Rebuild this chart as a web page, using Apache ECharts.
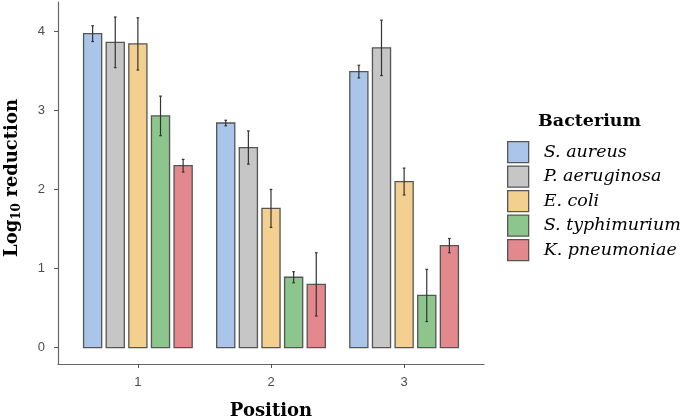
<!DOCTYPE html>
<html>
<head>
<meta charset="utf-8">
<script src="https://cdn.jsdelivr.net/npm/echarts@6/dist/echarts.min.js"></script>
<style>html,body{margin:0;padding:0;background:#fff;}#c{width:685px;height:420px;}</style>
</head>
<body>
<div id="c"></div>
<script>
var positions = ['1', '2', '3'];
var bacteria = ['S. aureus', 'P. aeruginosa', 'E. coli', 'S. typhimurium', 'K. pneumoniae'];
var sAureus = [3.97, 2.84, 3.49];
var sAureusSd = [0.10, 0.035, 0.08];
var pAeruginosa = [3.86, 2.53, 3.79];
var pAeruginosaSd = [0.32, 0.21, 0.35];
var eColi = [3.84, 1.76, 2.10];
var eColiSd = [0.33, 0.24, 0.17];
var sTyphimurium = [2.93, 0.89, 0.66];
var sTyphimuriumSd = [0.25, 0.07, 0.33];
var kPneumoniae = [2.30, 0.80, 1.29];
var kPneumoniaeSd = [0.08, 0.40, 0.09];
var yTicks = [0, 1, 2, 3, 4];

var means = [sAureus, pAeruginosa, eColi, sTyphimurium, kPneumoniae];
var sds = [sAureusSd, pAeruginosaSd, eColiSd, sTyphimuriumSd, kPneumoniaeSd];
var colors = ['#aac5e9', '#c6c6c6', '#f3d08f', '#8cc68c', '#e3888c'];
var step = 0.17, barW = 0.136, capW = 0.02;

var chart = echarts.init(document.getElementById('c'), null, {renderer: 'canvas'});

var series = bacteria.map(function (name, si) {
  var offset = (si - 2) * step;
  return {
    name: name,
    type: 'custom',
    itemStyle: {color: colors[si], borderColor: '#555', borderWidth: 1.3},
    data: positions.map(function (p, i) { return [i + 1, means[si][i], sds[si][i]]; }),
    renderItem: function (params, api) {
      var x = api.value(0) + offset;
      var v = api.value(1), sd = api.value(2);
      var top = api.coord([x, v]);
      var base = api.coord([x, 0]);
      var w = api.size([barW, 0])[0];
      var cw = api.size([capW, 0])[0];
      var hi = api.coord([x, v + sd]);
      var lo = api.coord([x, v - sd]);
      var ls = {stroke: '#333', lineWidth: 1.2};
      return {
        type: 'group',
        children: [
          {type: 'rect', shape: {x: top[0] - w / 2, y: top[1], width: w, height: base[1] - top[1]},
           style: {fill: colors[si], stroke: '#555', lineWidth: 1.3}},
          {type: 'line', shape: {x1: hi[0], y1: hi[1], x2: lo[0], y2: lo[1]}, style: ls},
          {type: 'line', shape: {x1: hi[0] - cw / 2, y1: hi[1], x2: hi[0] + cw / 2, y2: hi[1]}, style: ls},
          {type: 'line', shape: {x1: lo[0] - cw / 2, y1: lo[1], x2: lo[0] + cw / 2, y2: lo[1]}, style: ls}
        ]
      };
    }
  };
});

chart.setOption({
  animation: false,
  backgroundColor: '#fff',
  title: {
    text: 'Bacterium', left: 538, top: 112, padding: 0,
    textStyle: {fontFamily: 'DejaVu Serif', fontWeight: 'bold', fontSize: 17.5, color: '#000'}
  },
  legend: {
    orient: 'vertical', left: 507, top: 141, padding: 0,
    itemWidth: 21, itemHeight: 21, itemGap: 2.2,
    icon: 'rect',
    data: bacteria.map(function (b) { return {name: b, itemStyle: {borderColor: '#555', borderWidth: 1.3}}; }),
    textStyle: {fontFamily: 'DejaVu Serif', fontStyle: 'italic', fontSize: 17.5, lineHeight: 21, color: '#000', padding: [0, 0, 0, 10]}
  },
  grid: {left: 58, right: 201, top: 2, bottom: 56, outerBoundsMode: 'none', containLabel: false},
  xAxis: {
    type: 'value', min: 0.4, max: 3.6,
    name: 'Position', nameLocation: 'middle', nameGap: 38,
    nameTextStyle: {fontFamily: 'DejaVu Serif', fontWeight: 'bold', fontSize: 18, color: '#000'},
    axisLine: {show: true, onZero: false, lineStyle: {color: '#666', width: 1.2}},
    axisTick: {show: true, length: 4, customValues: [1, 2, 3], lineStyle: {color: '#555'}},
    axisLabel: {customValues: [1, 2, 3], margin: 12, fontFamily: 'Liberation Sans', fontSize: 13, color: '#4d4d4d',
      formatter: function (v) { return positions[Math.round(v) - 1]; }},
    splitLine: {show: false}
  },
  yAxis: {
    type: 'value', min: -0.207, max: 4.37,
    name: '{b|Log}{s|10}{b| reduction}', nameLocation: 'middle', nameGap: 35,
    nameTextStyle: {
      padding: [0, 0, 0, 10],
      rich: {
        b: {fontFamily: 'DejaVu Serif', fontWeight: 'bold', fontSize: 18, color: '#000', lineHeight: 22, verticalAlign: 'middle'},
        s: {fontFamily: 'DejaVu Serif', fontWeight: 'bold', fontSize: 12, color: '#000', lineHeight: 22, verticalAlign: 'bottom'}
      }
    },
    axisLine: {show: true, onZero: false, lineStyle: {color: '#666', width: 1.2}},
    axisTick: {show: true, length: 4, customValues: yTicks, lineStyle: {color: '#555'}},
    axisLabel: {customValues: yTicks, margin: 13, fontFamily: 'Liberation Sans', fontSize: 13, color: '#4d4d4d'},
    splitLine: {show: false}
  },
  series: series
});
</script>
</body>
</html>
